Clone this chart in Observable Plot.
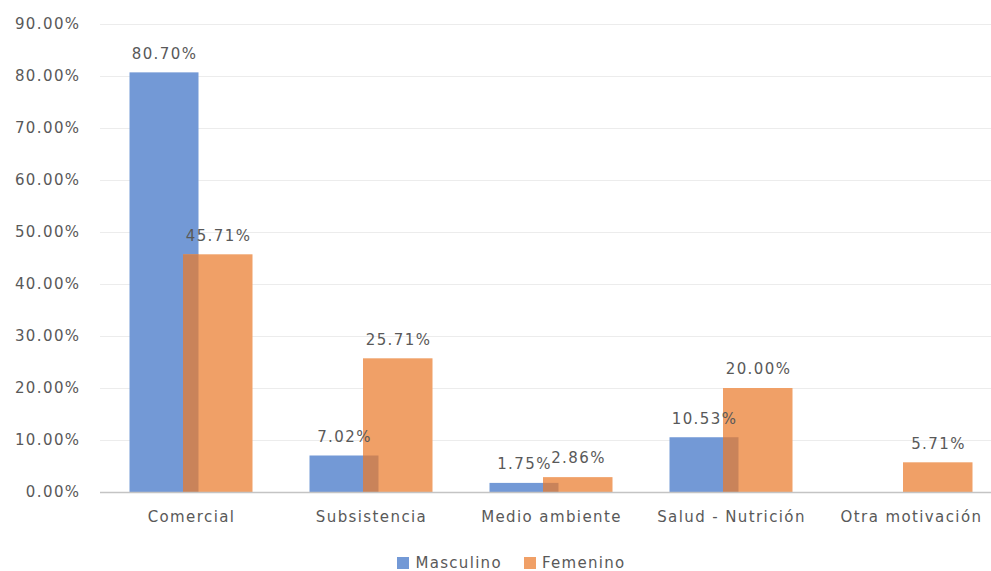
<!DOCTYPE html>
<html>
<head>
<meta charset="utf-8">
<script src="https://cdn.jsdelivr.net/npm/d3@7"></script>
<script src="https://cdn.jsdelivr.net/npm/@observablehq/plot@0.6"></script>
<style>
  html, body { margin: 0; padding: 0; background: #fff; }
  #chart svg text { letter-spacing: 1.4px; }
  .legend {
    display: flex; justify-content: center; align-items: center;
    padding-left: 32px; padding-top: 9px; height: 18px;
    font-family: "DejaVu Sans", sans-serif; font-size: 15px; color: #595959;
    letter-spacing: 1.3px;
  }
  .legend .item { display: flex; align-items: center; margin: 0 11px; }
  .legend .sw { width: 12px; height: 12px; margin-right: 6px; }
</style>
</head>
<body>
<div id="chart"></div>
<script>
// Motivation categories and the share of each gender (percent)
const categories = ["Comercial", "Subsistencia", "Medio ambiente", "Salud - Nutrición", "Otra motivación"];
const masculino = [80.70, 7.02, 1.75, 10.53, null];
const femenino = [45.71, 25.71, 2.86, 20.00, 5.71];
const series = ["Masculino", "Femenino"];
const yTicks = [0, 10, 20, 30, 40, 50, 60, 70, 80, 90];

const blue = "#7399d6";
const orange = "#f0a067";
const overlap = "#c9835a";

const rowsM = categories.map((c, i) => ({cat: c, value: masculino[i]})).filter(d => d.value != null);
const rowsF = categories.map((c, i) => ({cat: c, value: femenino[i]})).filter(d => d.value != null);
const rowsBoth = categories
  .map((c, i) => ({cat: c, value: Math.min(masculino[i] ?? 0, femenino[i] ?? 0)}))
  .filter(d => d.value > 0);

const fmt = d => d.toFixed(2) + "%";
const font = "DejaVu Sans, sans-serif";

const chart = Plot.plot({
  width: 991,
  height: 545,
  marginTop: 24,
  marginBottom: 53,
  marginLeft: 100,
  marginRight: 0,
  style: {fontFamily: font, fontSize: "15px", color: "#595959", background: "#fff"},
  x: {domain: categories, range: [100.5, 1000.5], padding: 0},
  y: {domain: [0, 90]},
  marks: [
    Plot.ruleY(yTicks.slice(1), {stroke: "#ececec", strokeWidth: 1.2}),
    Plot.axisY({ticks: yTicks, tickFormat: fmt, tickSize: 0, tickPadding: 20,
      fontSize: 15, fill: "#595959", label: null}),
    Plot.axisX({tickSize: 0, tickPadding: 19, fontSize: 15, fill: "#595959", label: null}),
    // Masculino bars sit left of the band centre, Femenino bars right, overlapping a little
    Plot.barY(rowsM, {x: "cat", y: "value", fill: blue, insetLeft: 28.5, insetRight: 82.5}),
    Plot.barY(rowsF, {x: "cat", y: "value", fill: orange, insetLeft: 82, insetRight: 28.5}),
    Plot.barY(rowsBoth, {x: "cat", y: "value", fill: overlap, insetLeft: 82, insetRight: 82.5}),
    Plot.ruleY([0], {stroke: "#c4c4c4", strokeWidth: 1.6}),
    Plot.text(rowsM, {x: "cat", y: "value", text: d => fmt(d.value), dx: -27, dy: -19,
      fontSize: 15, fill: "#595959", fontFamily: font}),
    Plot.text(rowsF, {x: "cat", y: "value", text: d => fmt(d.value), dx: 27, dy: -19,
      fontSize: 15, fill: "#595959", fontFamily: font})
  ]
});
document.getElementById("chart").appendChild(chart);

// Legend below the plot
const legend = document.createElement("div");
legend.className = "legend";
[[series[0], blue], [series[1], orange]].forEach(([name, color]) => {
  const item = document.createElement("div");
  item.className = "item";
  const sw = document.createElement("span");
  sw.className = "sw";
  sw.style.background = color;
  const label = document.createElement("span");
  label.textContent = name;
  item.append(sw, label);
  legend.appendChild(item);
});
document.getElementById("chart").appendChild(legend);
</script>
</body>
</html>
